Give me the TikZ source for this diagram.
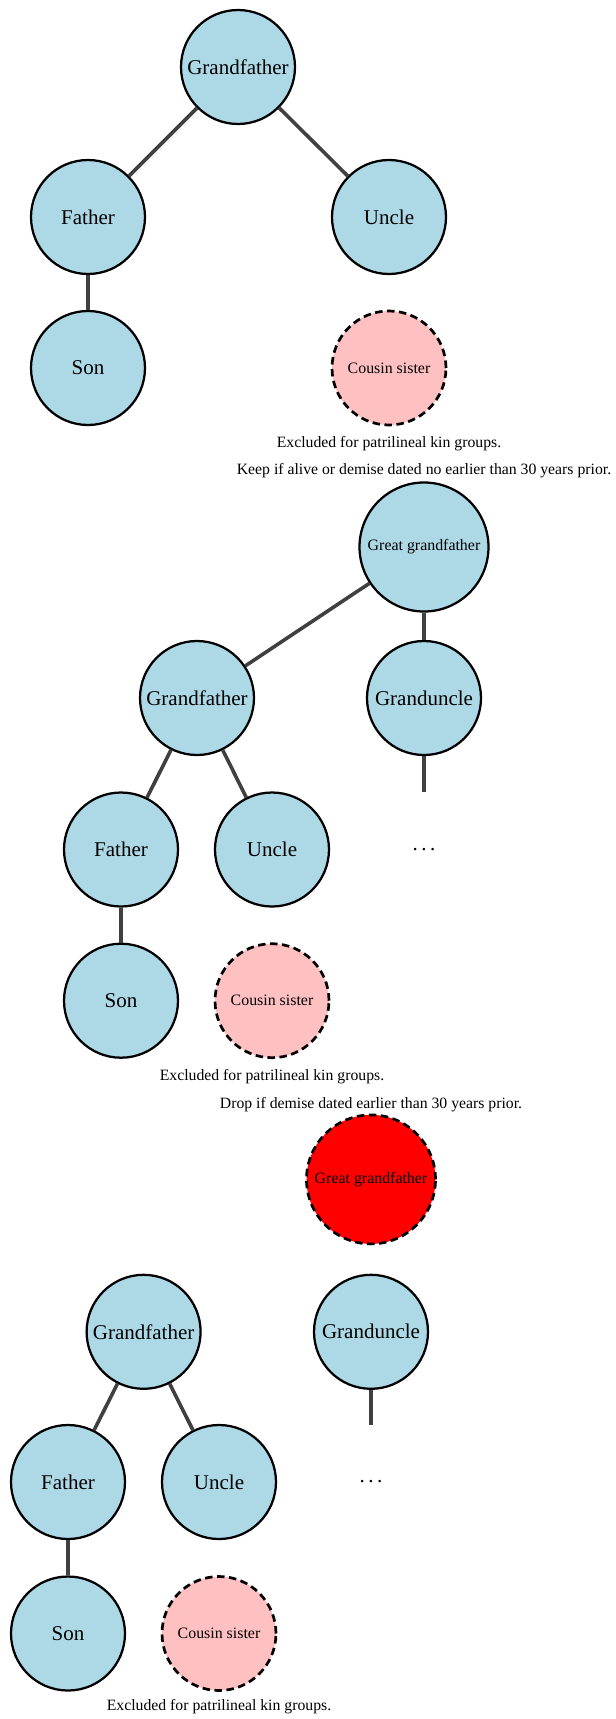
\documentclass[tikz,border=0pt]{standalone}
\usepackage{fontspec}
\setmainfont{Liberation Serif}
\definecolor{kinblue}{RGB}{173,216,230}
\definecolor{kinpink}{RGB}{255,192,194}
\definecolor{kinred}{RGB}{255,0,0}
\definecolor{linkgray}{RGB}{64,64,64}
\tikzset{
  person/.style={circle, draw=black, line width=1.5pt, fill=kinblue, minimum size=76pt, inner sep=0pt, font=\fontsize{14}{16}\selectfont},
  elder/.style={person, minimum size=86pt, font=\fontsize{10.6}{12}\selectfont},
  cousin/.style={person, fill=kinpink, line width=1.8pt, dash pattern=on 5pt off 3pt, font=\fontsize{10.6}{12}\selectfont},
  dropped/.style={elder, fill=kinred, line width=1.8pt, dash pattern=on 5pt off 3pt},
  hidden/.style={circle, minimum size=76pt, inner sep=0pt, font=\fontsize{14}{16}\selectfont},
  note/.style={inner sep=0pt, font=\fontsize{10.5}{12}\selectfont},
  link/.style={draw=linkgray, line width=2.4pt}
}
\begin{document}
\begin{tikzpicture}[x=0.6667pt, y=0.6667pt]
    \useasboundingbox (0,0) rectangle (616,-1719);
    % First tree: grandfather at the top
    \node [person] (gfA) at (238,-67) {Grandfather};
    \node [person] (faA) at (88,-217) {Father};
    \node [person] (unA) at (389,-217) {Uncle};
    \node [person] (soA) at (88,-368) {Son};
    \node [cousin] (coA) at (389,-368) {Cousin sister};
    \node [note] (exA) at (389,-444) {Excluded for patrilineal kin groups.};
    \node [note] (keep) at (424,-471) {Keep if alive or demise dated no earlier than 30 years prior.};
    \draw [link] (gfA) -- (faA);
    \draw [link] (gfA) -- (unA);
    \draw [link] (faA) -- (soA);
    % Second tree: great grandfather kept
    \node [elder] (ggB) at (424,-547) {Great grandfather};
    \node [person] (gfB) at (197,-698) {Grandfather};
    \node [person] (guB) at (424,-698) {Granduncle};
    \node [hidden] (dtB) at (424,-849.5) {.\,.\,.};
    \node [person] (faB) at (121,-849.5) {Father};
    \node [person] (unB) at (272,-849.5) {Uncle};
    \node [person] (soB) at (121,-1000.7) {Son};
    \node [cousin] (coB) at (272,-1000.7) {Cousin sister};
    \node [note] (exB) at (272,-1076.4) {Excluded for patrilineal kin groups.};
    \node [note] (drop) at (371,-1104.6) {Drop if demise dated earlier than 30 years prior.};
    \draw [link] (ggB) -- (gfB);
    \draw [link] (ggB) -- (guB);
    \draw [link] (guB) -- (dtB);
    \draw [link] (gfB) -- (faB);
    \draw [link] (gfB) -- (unB);
    \draw [link] (faB) -- (soB);
    % Third tree: great grandfather dropped
    \node [dropped] (ggC) at (371,-1179.4) {Great grandfather};
    \node [person] (gfC) at (143.6,-1331.8) {Grandfather};
    \node [person] (guC) at (371,-1331.8) {Granduncle};
    \node [hidden] (dtC) at (371,-1482) {.\,.\,.};
    \node [person] (faC) at (68,-1482) {Father};
    \node [person] (unC) at (219,-1482) {Uncle};
    \node [person] (soC) at (68,-1633.5) {Son};
    \node [cousin] (coC) at (219,-1633.5) {Cousin sister};
    \node [note] (exC) at (219,-1707) {Excluded for patrilineal kin groups.};
    \draw [link] (guC) -- (dtC);
    \draw [link] (gfC) -- (faC);
    \draw [link] (gfC) -- (unC);
    \draw [link] (faC) -- (soC);
\end{tikzpicture}
\end{document}
